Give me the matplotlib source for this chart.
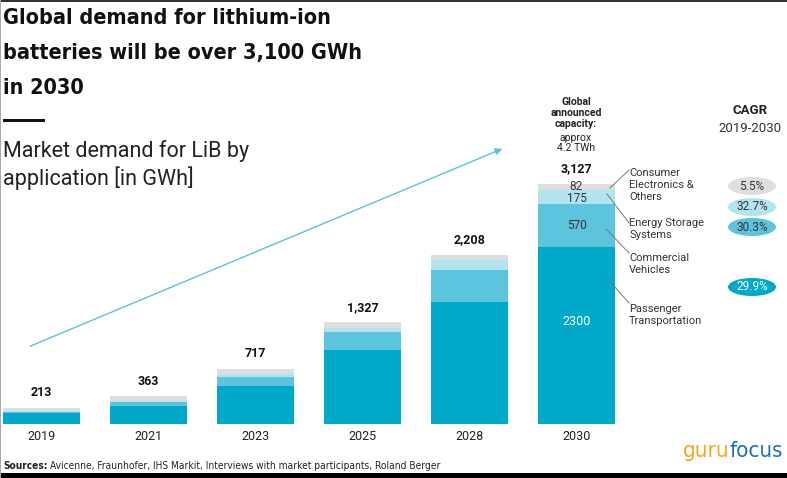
import matplotlib
matplotlib.use("Agg")
import matplotlib.pyplot as plt
from matplotlib.patches import Ellipse, Rectangle
from matplotlib import font_manager
import numpy as np

years = ["2019", "2021", "2023", "2025", "2028", "2030"]
passenger = [140, 235, 490, 965, 1590, 2300]
commercial = [20, 50, 120, 235, 410, 570]
storage = [5, 13, 35, 55, 140, 175]
consumer = [48, 65, 72, 72, 68, 82]
totals = [213, 363, 717, 1327, 2208, 3127]
total_labels = ["213", "363", "717", "1,327", "2,208", "3,127"]
segment_names = ["Passenger\nTransportation", "Commercial\nVehicles",
                 "Energy Storage\nSystems", "Consumer\nElectronics &\nOthers"]
cagr_labels = ["5.5%", "32.7%", "30.3%", "29.9%"]
title_lines = ["Global demand for lithium-ion", "batteries will be over 3,100 GWh", "in 2030"]

W, H = 787, 478
fig = plt.figure(figsize=(W / 100, H / 100), dpi=100)
fig.patch.set_facecolor("white")

ax = fig.add_axes([0, 0, 1, 1])
px_per_unit = 107.0
x0_px = 41.5
base_px = 54.0
gwh_per_px = 3127 / 240.0
ax.set_xlim(-x0_px / px_per_unit, (W - x0_px) / px_per_unit)
ax.set_ylim(-base_px * gwh_per_px, (H - base_px) * gwh_per_px)
ax.axis("off")

c_pass = "#00a9c9"
c_comm = "#5cc4dc"
c_ess = "#b2e4f0"
c_cons = "#dedede"

x = np.arange(len(years))
bw = 0.72
b1 = np.array(passenger)
b2 = b1 + np.array(commercial)
b3 = b2 + np.array(storage)
ax.bar(x, passenger, bw, color=c_pass, linewidth=0)
ax.bar(x, commercial, bw, bottom=b1, color=c_comm, linewidth=0)
ax.bar(x, storage, bw, bottom=b2, color=c_ess, linewidth=0)
ax.bar(x, consumer, bw, bottom=b3, color=c_cons, linewidth=0)

def fpx(xp, yp):
    return xp / W, 1 - yp / H

reg = ["Roboto", "DejaVu Sans"]
names = {f.name for f in font_manager.fontManager.ttflist}
cond_stretch = any(f.name == "DejaVu Sans" and f.stretch in ("condensed", 700, "semi-condensed")
                   for f in font_manager.fontManager.ttflist)
if "Liberation Sans Narrow" in names:
    cond = dict(family=["Liberation Sans Narrow"])
elif cond_stretch:
    cond = dict(family=["DejaVu Sans"], fontstretch="condensed")
else:
    cond = dict(family=reg)

for i in range(len(years)):
    ax.text(x[i], totals[i] + 15 * gwh_per_px, total_labels[i], ha="center", va="center",
            fontsize=9, fontweight="bold", family=reg, color="#111111")
    ax.text(x[i], -13 * gwh_per_px, years[i], ha="center", va="center",
            fontsize=9, family=reg, color="#222222")

i = 5
ax.text(x[i], b3[i] + consumer[i] / 2 + 10, str(consumer[i]), ha="center", va="center",
        fontsize=8.5, family=reg, color="#333333")
ax.text(x[i], b2[i] + storage[i] / 2 - 25, str(storage[i]), ha="center", va="center",
        fontsize=8.5, family=reg, color="#333333")
ax.text(x[i], b1[i] + commercial[i] / 2, str(commercial[i]), ha="center", va="center",
        fontsize=8.5, family=reg, color="#333333")
ax.text(x[i], passenger[i] * 0.58, str(passenger[i]), ha="center", va="center",
        fontsize=9, family=reg, color="white")

ax.annotate("", xy=(5.0 - 0.67, 3600), xytext=(-0.13, 1000),
            arrowprops=dict(arrowstyle="-|>", color="#5bc3da", lw=1.0,
                            mutation_scale=10))

for line, yy in zip(title_lines, [18, 53, 88]):
    fig.text(*fpx(3, yy), line, ha="left", va="center", fontsize=15.5, fontweight="bold",
             color="#111111", **cond)
ax.add_patch(Rectangle(fpx(3, 122), 42 / W, 3 / H, transform=fig.transFigure,
                       color="#111111", linewidth=0))
fig.text(*fpx(3, 165), "Market demand for LiB by\napplication [in GWh]", ha="left",
         va="center", fontsize=15.5, family=reg, color="#222222", linespacing=1.2)

fig.text(*fpx(576, 113), "Global\nannounced\ncapacity:", ha="center", va="center",
         fontsize=7.5, fontweight="bold", family=reg, color="#222222", linespacing=1.1)
fig.text(*fpx(576, 143), "approx\n4.2 TWh", ha="center", va="center",
         fontsize=7.5, family=reg, color="#222222", linespacing=1.1)

fig.text(*fpx(750, 111), "CAGR", ha="center", va="center", fontsize=9.5,
         fontweight="bold", family=reg, color="#222222")
fig.text(*fpx(750, 128), "2019-2030", ha="center", va="center", fontsize=9.5,
         family=reg, color="#333333")

label_y = [315, 264, 229, 185]
line_from = [(606, 277), (606, 229), (607, 194), (610, 188)]
line_to = [(629, 303), (629, 253), (629, 223), (629, 170)]
for name, ly, lf, lt in zip(segment_names, label_y, line_from, line_to):
    fig.text(*fpx(629, ly), name, ha="left", va="center", fontsize=8, family=reg,
             color="#333333", linespacing=1.2)
    fig.add_artist(plt.Line2D([lf[0] / W, lt[0] / W], [1 - lf[1] / H, 1 - lt[1] / H],
                              transform=fig.transFigure, color="#777777", lw=0.7))

cagr_y = [186, 207, 227, 287]
cagr_cols = [c_cons, c_ess, c_comm, c_pass]
cagr_txt = ["#333333", "#333333", "#333333", "white"]
for lab, yy, cc, tc in zip(cagr_labels, cagr_y, cagr_cols, cagr_txt):
    fig.add_artist(Ellipse(fpx(752, yy), 48 / W, 18 / H, transform=fig.transFigure,
                           facecolor=cc, edgecolor="none"))
    fig.text(*fpx(752, yy), lab, ha="center", va="center", fontsize=8.5, family=reg,
             color=tc)

fig.text(*fpx(3, 466), "Sources:", ha="left", va="center", fontsize=7.3,
         fontweight="bold", color="#222222", **cond)
fig.text(*fpx(50, 466), "Avicenne, Fraunhofer, IHS Markit, Interviews with market participants, Roland Berger",
         ha="left", va="center", fontsize=7.3, color="#222222", **cond)

fig.text(*fpx(729, 451), "guru", ha="right", va="center", fontsize=16, color="#f5a81c",
         **cond)
fig.text(*fpx(729, 451), "focus", ha="left", va="center", fontsize=16, color="#1f6fc0",
         **cond)

fig.add_artist(Rectangle((0, 0), 1, 5 / H, transform=fig.transFigure, color="black",
                         linewidth=0))
fig.add_artist(Rectangle((0, 1 - 1.5 / H), 1, 1.5 / H, transform=fig.transFigure,
                         color="#333333", linewidth=0))
fig.add_artist(Rectangle((0, 0), 1.2 / W, 1, transform=fig.transFigure, color="#aaaaaa",
                         linewidth=0))

fig.savefig("out.png", dpi=100)
